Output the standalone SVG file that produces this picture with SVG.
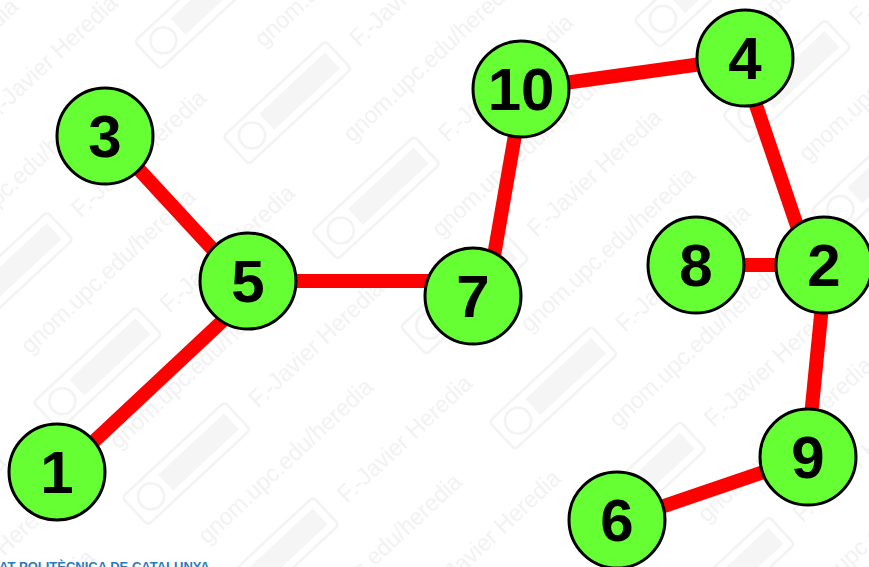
<svg xmlns="http://www.w3.org/2000/svg" width="869" height="567" viewBox="0 0 869 567">
<style>
.edge{stroke:#ff0000;stroke-width:14;fill:none}
.node circle{fill:#66ff33;stroke:#000;stroke-width:3}
.node text{font-family:"Liberation Sans",Arial,sans-serif;font-weight:bold;font-size:60px;fill:#000;text-anchor:middle}
.wm{font-family:"Liberation Sans",Arial,sans-serif;font-size:23px;fill:#f1f1f1}
.wmbox{fill:none;stroke:#f2f2f2;stroke-width:2.5}
.wmband{fill:#f5f5f5}
.foot{font-family:"Liberation Sans",Arial,sans-serif;font-weight:bold;font-size:13px;fill:#2b7bb9}
</style>
<defs>
<g id="cc">
<rect class="wmbox" x="0" y="0" width="140" height="38" rx="4"/>
<circle class="wmbox" cx="22" cy="19" r="13"/>
<rect class="wmband" x="42" y="8" width="90" height="22"/>
</g>
<pattern id="wmp" patternUnits="userSpaceOnUse" width="700" height="130" patternTransform="rotate(-43) translate(160,45)">
<text class="wm" x="0" y="40">gnom.upc.edu/heredia</text>
<use href="#cc" x="290" y="12"/>
<text class="wm" x="450" y="40">F.-Javier Heredia</text>
<text class="wm" x="320" y="105">gnom.upc.edu/heredia</text>
<use href="#cc" x="610" y="77"/>
<use href="#cc" x="-90" y="77"/>
<text class="wm" x="70" y="105">F.-Javier Heredia</text>
</pattern>
</defs>
<rect width="869" height="567" fill="#fff"/>
<rect id="watermark" width="869" height="567" fill="url(#wmp)"/>
<text class="foot" x="-1" y="571">AT POLITÈCNICA DE CATALUNYA</text>
<g id="edges">
<line class="edge" x1="108" y1="136" x2="242" y2="281"/>
<line class="edge" x1="57" y1="476" x2="248" y2="297"/>
<line class="edge" x1="248" y1="281" x2="473" y2="281"/>
<line class="edge" x1="487" y1="296" x2="523" y2="89"/>
<line class="edge" x1="521" y1="89" x2="745" y2="58"/>
<line class="edge" x1="740" y1="58" x2="812" y2="270"/>
<line class="edge" x1="696" y1="265" x2="824" y2="265"/>
<line class="edge" x1="826" y1="265" x2="807" y2="457"/>
<line class="edge" x1="808" y1="457" x2="617" y2="522"/>
</g>
<g id="n1" class="node"><circle cx="57" cy="472" r="48"/><text x="57" y="493">1</text></g>
<g id="n3" class="node"><circle cx="105" cy="136" r="48"/><text x="105" y="157">3</text></g>
<g id="n5" class="node"><circle cx="248" cy="281" r="48"/><text x="248" y="302">5</text></g>
<g id="n7" class="node"><circle cx="473" cy="296" r="48"/><text x="473" y="317">7</text></g>
<g id="n10" class="node"><circle cx="521" cy="89" r="48"/><text x="521" y="110">10</text></g>
<g id="n4" class="node"><circle cx="745" cy="58" r="48"/><text x="745" y="79">4</text></g>
<g id="n8" class="node"><circle cx="696" cy="265" r="48"/><text x="696" y="286">8</text></g>
<g id="n2" class="node"><circle cx="824" cy="265" r="48"/><text x="824" y="286">2</text></g>
<g id="n9" class="node"><circle cx="808" cy="457" r="48"/><text x="808" y="478">9</text></g>
<g id="n6" class="node"><circle cx="617" cy="520" r="48"/><text x="617" y="541">6</text></g>
</svg>
